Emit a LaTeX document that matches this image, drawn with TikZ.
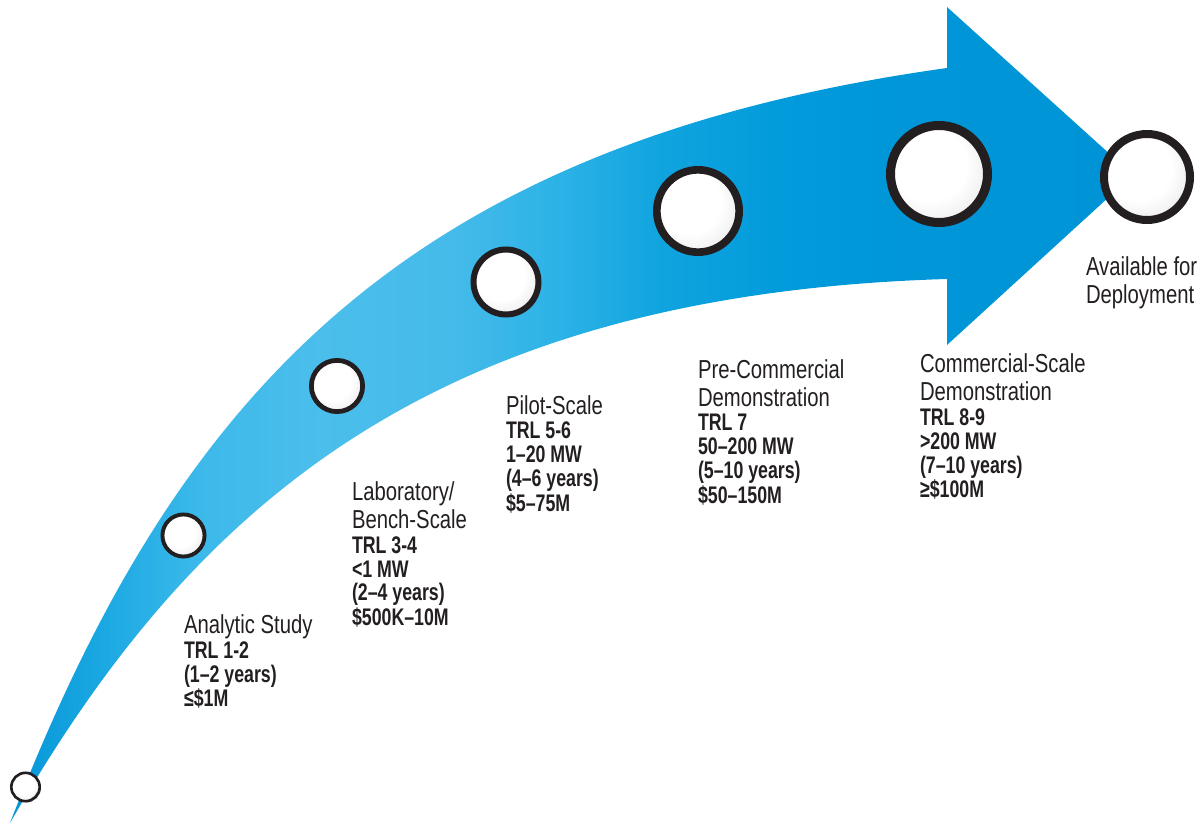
\documentclass[tikz,border=0pt]{standalone}
\usepackage{fontspec}
\newfontfamily\regf{Liberation Sans}[FakeStretch=0.78]
\newfontfamily\boldf{Liberation Sans}[FakeStretch=0.74]
\usetikzlibrary{shadows}
\definecolor{ringc}{HTML}{231F20}
\definecolor{txt}{HTML}{231F20}
\definecolor{b0}{HTML}{0696D7}
\definecolor{b1}{HTML}{1AA8E2}
\definecolor{b2}{HTML}{3CB9EA}
\definecolor{b3}{HTML}{4BBEEB}
\definecolor{b4}{HTML}{45BBEA}
\definecolor{b5}{HTML}{2CB2E6}
\definecolor{b6}{HTML}{10A4DF}
\definecolor{b7}{HTML}{029BDB}
\definecolor{b8}{HTML}{0096D8}
\definecolor{b9}{HTML}{0094D6}
\definecolor{pa}{HTML}{F2F2F3}
\definecolor{pb}{HTML}{CACACD}
\definecolor{pc}{HTML}{A9A9AD}
\pgfdeclarehorizontalshading{band}{100bp}{color(0bp)=(b0); color(25.4bp)=(b0); color(29.2bp)=(b1); color(33.3bp)=(b2); color(38.3bp)=(b3); color(43.7bp)=(b4); color(48.3bp)=(b5); color(52.5bp)=(b6); color(57.5bp)=(b7); color(62.5bp)=(b8); color(72.2bp)=(b9); color(100bp)=(b9)}
\pgfdeclareradialshading{pearl}{\pgfpoint{-8bp}{8bp}}{color(0bp)=(white); color(19bp)=(white); color(27bp)=(pa); color(33bp)=(pb); color(50bp)=(pc)}
\newcommand{\rgl}[1]{\hbox{\regf\fontsize{13pt}{14pt}\selectfont #1}}
\newcommand{\bdl}[1]{\hbox{\boldf\bfseries\fontsize{12pt}{12pt}\selectfont #1}}
\newcommand{\setsk}{\baselineskip=12pt\lineskiplimit=-100pt\lineskip=0pt\relax}
\newcommand{\rr}{\vskip2pt}
\newcommand{\rb}{\vskip0.5pt}
\tikzset{
  ball/.style={circle, inner sep=0pt, outer sep=0pt, draw=ringc, shading=pearl,
    minimum size={0.915*#1pt}, line width={0.085*#1pt},
    drop shadow={shadow xshift=0.6pt, shadow yshift=-0.6pt, opacity=0.35, fill=black}},
  lbl/.style={anchor=base west, inner sep=0pt, outer sep=0pt, text=txt}
}
\begin{document}
\begin{tikzpicture}[x=0.5pt,y=-0.5pt]
\useasboundingbox (0,0) rectangle (1201,824);
\begin{scope}
\clip (10,823) .. controls (172,405) and (395,145) .. (947,68)
  -- (947,7) -- (1133,175) -- (947,345) -- (947,279)
  .. controls (427,294.6) and (190,510) .. (10,823) -- cycle;
\shade[shading=band] (0,0) rectangle (1201,824);
\end{scope}
\node[ball=15.5] (c1) at (25.5,787) {};
\node[ball=23] (c2) at (183.5,535.5) {};
\node[ball=28] (c3) at (337,386) {};
\node[ball=35.5] (c4) at (506,282) {};
\node[ball=45] (c5) at (698,211) {};
\node[ball=53] (c6) at (939,174) {};
\node[ball=47] (c7) at (1147,177) {};
\node[lbl] (t1) at (184,633) {\vtop{\setsk\rgl{Analytic Study}\rb\bdl{TRL 1-2}\bdl{(1–2 years)}\bdl{≤\$1M}}};
\node[lbl] (t2) at (352,500) {\vtop{\setsk\rgl{Laboratory/}\rr\rgl{Bench-Scale}\rb\bdl{TRL 3-4}\bdl{<1 MW}\bdl{(2–4 years)}\bdl{\$500K–10M}}};
\node[lbl] (t3) at (506,414) {\vtop{\setsk\rgl{Pilot-Scale}\rb\bdl{TRL 5-6}\bdl{1–20 MW}\bdl{(4–6 years)}\bdl{\$5–75M}}};
\node[lbl] (t4) at (698,378) {\vtop{\setsk\rgl{Pre-Commercial}\rr\rgl{Demonstration}\rb\bdl{TRL 7}\bdl{50–200 MW}\bdl{(5–10 years)}\bdl{\$50–150M}}};
\node[lbl] (t5) at (920,372) {\vtop{\setsk\rgl{Commercial-Scale}\rr\rgl{Demonstration}\rb\bdl{TRL 8-9}\bdl{>200 MW}\bdl{(7–10 years)}\bdl{≥\$100M}}};
\node[lbl] (t6) at (1086,276) {\vtop{\setsk\rgl{Available for}\rr\rgl{Deployment}}};
\end{tikzpicture}
\end{document}
